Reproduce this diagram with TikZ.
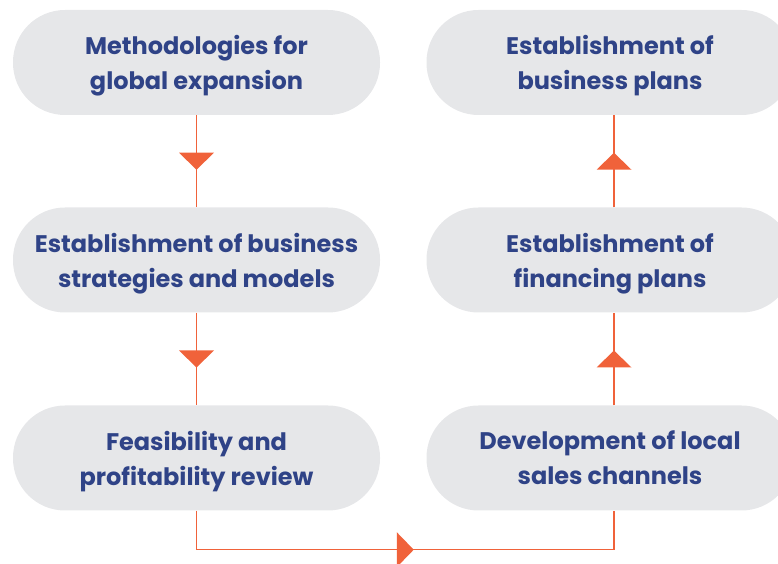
\documentclass[tikz,border=0pt]{standalone}
\usepackage{fontspec}
\setmainfont{Poppins}
\usepackage{xcolor}
\usetikzlibrary{arrows.meta,calc,decorations.markings,positioning}
\definecolor{stepgray}{RGB}{230,231,233}
\definecolor{stepnavy}{RGB}{47,67,135}
\definecolor{steporange}{RGB}{240,98,58}

\begin{document}
\begin{tikzpicture}[x=1pt,y=1pt,
  stepbox/.style={fill=stepgray,rounded corners=52pt,minimum width=367pt,minimum height=105pt,
    align=center,text=stepnavy,font=\fontsize{24}{35}\selectfont\bfseries,text depth=-1pt},
  flow/.style={steporange,line width=1.4pt,postaction={decorate},
    decoration={markings,mark=at position 0.5 with {\fill[steporange] (8.5pt,0)--(-8.5pt,17.5pt)--(-8.5pt,-17.5pt)--cycle;}}}]
  \useasboundingbox (0,0) rectangle (778,564);
  \clip (0,0) rectangle (778,564);
  % left column, going down
  \node[stepbox] (method) at (196.5,501.5) {Methodologies for\\global expansion};
  \node[stepbox] (strat) at (196.5,304) {Establishment of business\\strategies and models};
  \node[stepbox] (feas) at (196.5,106) {Feasibility and\\profitability review};
  % right column, going up
  \node[stepbox] (sales) at (610,106) {Development of local\\sales channels};
  \node[stepbox] (fin) at (610,304) {Establishment of\\financing plans};
  \node[stepbox] (plans) at (610,501.5) {Establishment of\\business plans};
  % connectors
  \draw[flow] (method.south) -- (strat.north);
  \draw[flow] (strat.south) -- (feas.north);
  \draw[flow] (feas.south) -- ++(0,-39) -| ([xshift=4pt]sales.south);
  \draw[flow] ([xshift=4pt]sales.north) -- ([xshift=4pt]fin.south);
  \draw[flow] ([xshift=4pt]fin.north) -- ([xshift=4pt]plans.south);
\end{tikzpicture}
\end{document}
